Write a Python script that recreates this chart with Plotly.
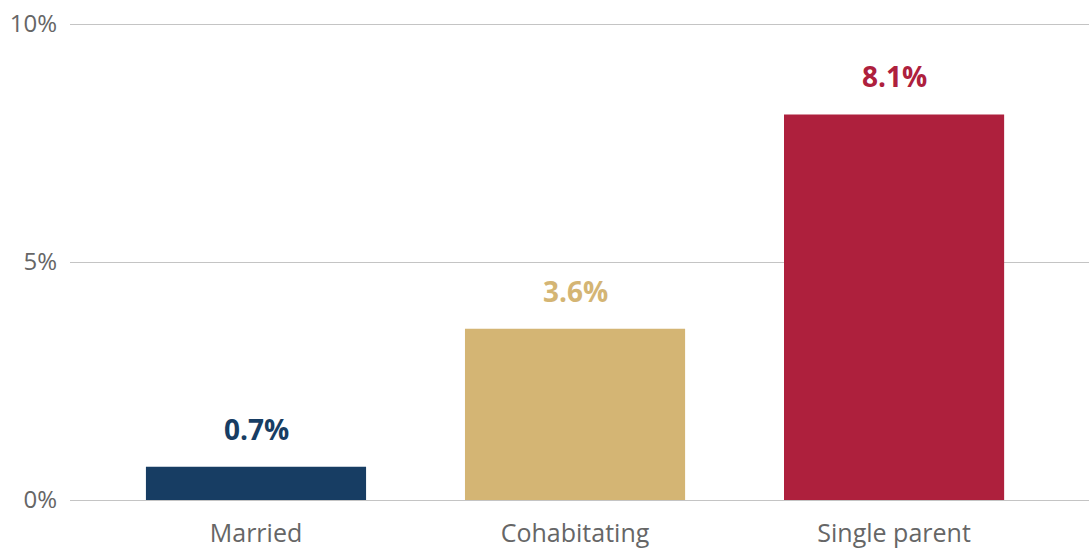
import plotly.graph_objects as go

categories = ["Married", "Cohabitating", "Single parent"]
values = [0.7, 3.6, 8.1]
colors = ["#173d63", "#d4b574", "#ae203d"]
y_ticks = [0, 5, 10]
y_tick_labels = ["0%", "5%", "10%"]

fig = go.Figure()
fig.add_trace(go.Bar(
    x=list(range(len(categories))),
    y=values,
    marker=dict(color=colors, line=dict(width=0)),
    width=0.69,
    hoverinfo="skip",
))

# Value labels above each bar, in the bar's colour
for i, (v, c) in enumerate(zip(values, colors)):
    fig.add_annotation(
        x=i, y=v, text=f"<b>{v:.1f}%</b>", showarrow=False,
        yanchor="bottom", yshift=17,
        font=dict(family="Open Sans, sans-serif", size=28, color=c),
    )

fig.update_layout(
    width=1089, height=555,
    margin=dict(l=70, r=0, t=22, b=53),
    paper_bgcolor="white", plot_bgcolor="white",
    showlegend=False,
    font=dict(family="Open Sans, sans-serif", color="#666666"),
)
fig.update_xaxes(
    tickmode="array", tickvals=list(range(len(categories))), ticktext=categories,
    range=[-0.583, 2.611], showgrid=False, zeroline=False, showline=False,
    ticks="", ticklabelstandoff=14, automargin=False,
    tickfont=dict(size=25, color="#666666"),
)
# Range padded slightly so the 0% and 10% gridlines are drawn
fig.update_yaxes(
    tickmode="array", tickvals=y_ticks, ticktext=y_tick_labels,
    range=[-0.042, 10.042], showgrid=True, gridcolor="#c4c4c4", gridwidth=1,
    zeroline=False, showline=False, ticks="", ticklabelstandoff=12,
    automargin=False,
    tickfont=dict(size=24, color="#666666"),
)

fig.write_html("out.html")
